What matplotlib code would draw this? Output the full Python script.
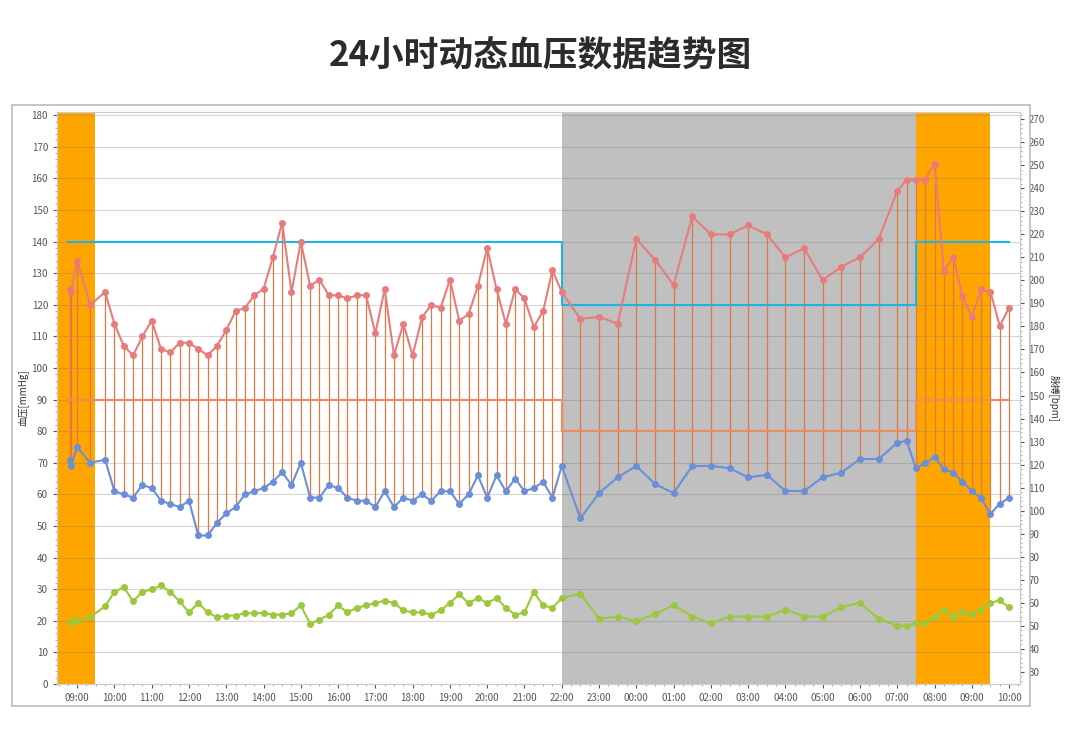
import matplotlib.pyplot as plt
import matplotlib.patches as patches
from matplotlib.ticker import MultipleLocator

plt.rcParams['font.family'] = ['Noto Sans CJK SC', 'DejaVu Sans']

# 测量时间（从09:00起的时刻）
times = (["08:48", "08:50", "09:00", "09:21"]
         + ["%02d:%02d" % ((9 + (45 + 15 * k) // 60) % 24, (45 + 15 * k) % 60) for k in range(50)]
         + ["22:30", "23:00", "23:30", "00:00", "00:30", "01:00", "01:30", "02:00", "02:30",
            "03:00", "03:30", "04:00", "04:30", "05:00", "05:30", "06:00", "06:30",
            "07:00", "07:15", "07:30", "07:45", "08:00", "08:15", "08:30", "08:45",
            "09:00", "09:15", "09:30", "09:45", "10:00"])

systolic = [125, 124, 134, 120,
            124, 114, 107, 104, 110, 115, 106, 105, 108, 108, 106, 104, 107, 112, 118, 119,
            123, 125, 135, 146, 124, 140, 126, 128, 123, 123, 122, 123, 123, 111, 125, 104,
            114, 104, 116, 120, 119, 128, 115, 117, 126, 138, 125, 114, 125, 122, 113, 118,
            131, 124,
            115.6, 116.2, 114, 140.8, 134.3, 126.3, 148, 142.3, 142.3, 145.1, 142.3, 135,
            137.9, 127.8, 132.1, 135, 140.8,
            156, 159.6, 159.6, 159.6, 164.7, 130.7, 135, 122.7, 116.2, 124.9, 124.1, 113.3, 119.1]

diastolic = [71, 69, 75, 70,
             71, 61, 60, 59, 63, 62, 58, 57, 56, 58, 47, 47, 51, 54, 56, 60, 61, 62, 64, 67,
             63, 70, 59, 59, 63, 62, 59, 58, 58, 56, 61, 56, 59, 58, 60, 58, 61, 61, 57, 60,
             66, 59, 66, 61, 65, 61, 62, 64, 59, 69,
             52.4, 60.4, 65.4, 69, 63.3, 60.4, 69, 69, 68.3, 65.4, 66.2, 61.1, 61.1, 65.4,
             66.9, 71.2, 71.2,
             76.3, 77, 68.3, 69.8, 71.9, 68, 66.9, 64, 61.1, 58.9, 53.8, 57.1, 58.9]

pulse = [51.6, 51.6, 52.3, 53.7,
         58.5, 64.7, 66.8, 60.6, 64.7, 65.8, 67.5, 64.7, 60.6, 55.8, 59.9, 55.8, 53.7, 54.4,
         54.4, 55.5, 55.5, 55.5, 54.8, 54.8, 55.5, 58.8, 50.9, 52.6, 54.8, 58.8, 55.8, 57.8,
         58.8, 59.9, 60.9, 59.9, 56.7, 55.8, 55.8, 54.8, 56.7, 59.9, 63.6, 59.9, 62, 59.9,
         62, 57.8, 54.8, 55.8, 64.7, 58.8, 57.8, 62,
         64, 53, 54, 52, 55, 59, 54, 51, 54, 54, 54, 57, 54, 54, 58, 60, 53,
         50, 50, 51, 51, 54, 57, 54, 56, 55, 57, 60, 61, 58]

# 阈值：白天/夜间
thr_breaks = [-0.25, 13.0, 22.5, 25.0]
sys_limit = [140, 120, 140, 140]
dia_limit = [90, 80, 90, 90]

hour_labels = ["%02d:00" % ((9 + h) % 24) for h in range(26)]


def to_hours(s):
    h, m = map(int, s.split(":"))
    return (h - 9) + m / 60


t = []
for i, s in enumerate(times):
    v = to_hours(s)
    if i >= 4 and v < 0:
        v += 24
    if i >= 54 and v < 13:
        v += 24
    t.append(v)

fig = plt.figure(figsize=(10.8, 7.52), dpi=100)
fig.patches.append(patches.Rectangle((0.011, 0.061), 0.9426, 0.80, transform=fig.transFigure,
                                     fill=False, edgecolor="#bbbbbb", linewidth=1.2))
fig.text(0.5, 0.925, "24小时动态血压数据趋势图", ha="center", va="center",
         fontsize=25, fontweight="bold", color="#2b2b2b")

ax = fig.add_axes([0.0528, 0.0904, 0.8912, 0.7606])
xmin, xmax = -0.54, 25.28
ax.set_xlim(xmin, xmax)
ax.set_ylim(0, 181)

ax.axvspan(xmin, 0.48, color="#ffa500", zorder=0, lw=0)
ax.axvspan(13.0, 22.5, color="#c0c0c0", zorder=0, lw=0)
ax.axvspan(22.5, 24.5, color="#ffa500", zorder=0, lw=0)

ax.yaxis.set_major_locator(MultipleLocator(10))
ax.set_axisbelow("line")
ax.grid(axis="y", color="#777777", alpha=0.3, linewidth=0.8)

ax.vlines(t, diastolic, systolic, color="#e07840", linewidth=0.9, zorder=2)
ax.step(thr_breaks, sys_limit, where="post", color="#1fb3e6", linewidth=1.5, zorder=3)
ax.step(thr_breaks, dia_limit, where="post", color="#f08a5a", linewidth=1.5, zorder=3)
ax.plot(t, systolic, color="#e87c7c", marker="o", markersize=4, linewidth=1.5, zorder=4)
ax.plot(t, diastolic, color="#6a8fd8", marker="o", markersize=4, linewidth=1.5, zorder=4)

ax2 = ax.twinx()
ax2.set_ylim(24.7, 273.1)
ax2.plot(t, pulse, color="#9cc83c", marker="o", markersize=4, linewidth=1.5, zorder=4)
ax2.yaxis.set_major_locator(MultipleLocator(10))
ax2.yaxis.set_minor_locator(MultipleLocator(2))

ax.set_xticks(range(26))
ax.set_xticklabels(hour_labels)
ax.xaxis.set_minor_locator(MultipleLocator(0.25))
ax.yaxis.set_minor_locator(MultipleLocator(2))

for a in (ax, ax2):
    a.tick_params(labelsize=7, colors="#555555", length=3)
    a.tick_params(which="minor", length=1.5, colors="#999999")
    for sp in a.spines.values():
        sp.set_color("#cccccc")

ax.set_ylabel("血压[mmHg]", fontsize=7, color="#333333", labelpad=2)
ax2.set_ylabel("脉搏[bpm]", fontsize=7, color="#333333", rotation=270, labelpad=10)

fig.savefig("out.png", dpi=100)
